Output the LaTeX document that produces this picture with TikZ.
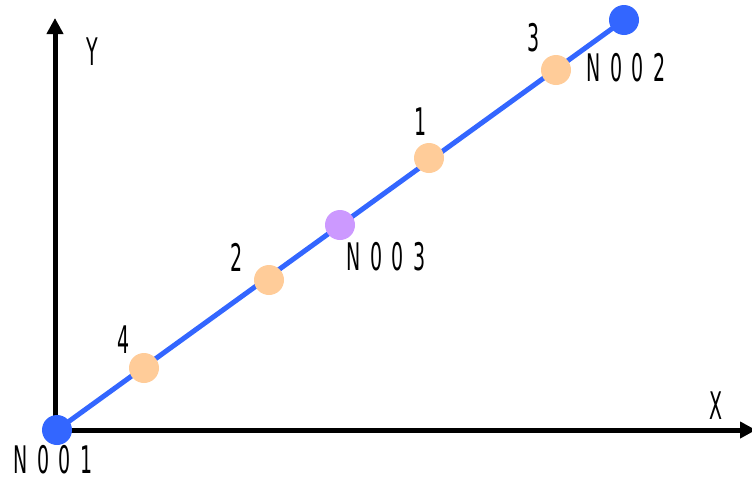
\documentclass[tikz,border=0pt]{standalone}
\usepackage{fontspec}
\setmainfont{DejaVu Sans}
\usetikzlibrary{arrows.meta}
\definecolor{lineblue}{HTML}{3366FF}
\definecolor{ptorange}{HTML}{FFCC99}
\definecolor{ptpurple}{HTML}{CC99FF}
\newcommand\lgap{\hspace{19pt}}
\begin{document}
\begin{tikzpicture}[x=1pt,y=-1pt,
  axis/.style={line width=5pt,-{Triangle[length=16pt,width=16pt]}},
  bar/.style={line width=5pt,lineblue},
  endpt/.style={circle,fill=lineblue,inner sep=0pt,minimum size=30pt},
  midpt/.style={circle,fill=ptpurple,inner sep=0pt,minimum size=30pt},
  ordpt/.style={circle,fill=ptorange,inner sep=0pt,minimum size=30pt},
  lbl/.style={font=\fontsize{38}{40}\selectfont,xscale=0.5,inner sep=0pt}]
\useasboundingbox (0,0) rectangle (752,477);
\coordinate (o) at (55,430);
\coordinate (ytip) at (55,18);
\coordinate (xtip) at (756,430);
\draw[axis] (o) -- (ytip);
\draw[axis] (o) -- (xtip);
\node[endpt] (n1) at (57,430) {};
\node[endpt] (n2) at (624,20) {};
\draw[bar] (n1.center) -- (n2.center);
\node[midpt] (n3) at (340,225) {};
\node[ordpt] (p4) at (144,368) {};
\node[ordpt] (p2) at (269,280) {};
\node[ordpt] (p1) at (429,158) {};
\node[ordpt] (p3) at (556,70) {};
\node[lbl] (ln1) at (53,460) {N\lgap0\lgap0\lgap1};
\node[lbl] (ln2) at (626,68) {N\lgap0\lgap0\lgap2};
\node[lbl] (ln3) at (386,257) {N\lgap0\lgap0\lgap3};
\node[lbl] (l3) at (534,38) {3};
\node[lbl] (l1) at (421,122) {1};
\node[lbl] (l2) at (237,257) {2};
\node[lbl] (l4) at (124,340) {4};
\node[lbl] (ly) at (92,52) {Y};
\node[lbl] (lx) at (716,406) {X};
\end{tikzpicture}
\end{document}
